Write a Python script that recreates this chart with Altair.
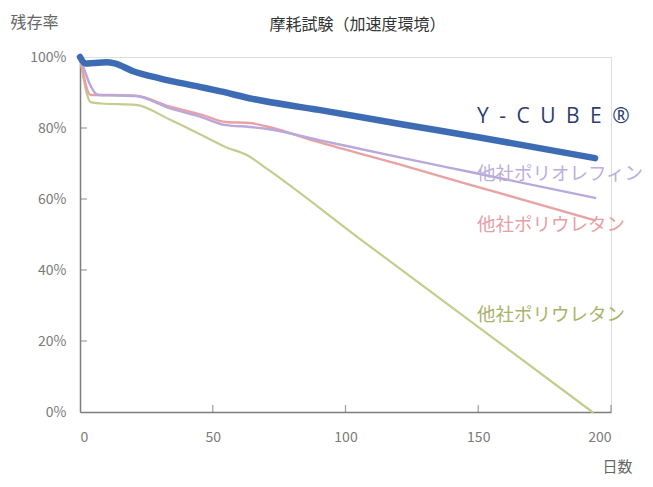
import altair as alt
import pandas as pd

# ---- data ----
days_ycube = [0, 2, 5, 10, 13, 20, 30, 45, 53, 65, 90, 120, 150, 194]
ycube = [100, 98.2, 98.3, 98.5, 98.2, 96.0, 94.0, 91.6, 90.3, 88.2, 85.1, 81.2, 77.4, 71.5]

days_olefin = [0, 7, 12, 21, 34, 46, 55, 64, 70, 90, 120, 147, 194]
olefin = [100, 89.3, 89.2, 89.0, 85.5, 83.0, 80.8, 80.3, 79.8, 76.6, 71.8, 67.6, 60.3]

days_ure1 = [0, 4, 12, 21, 34, 46, 55, 64, 70, 90, 120, 147, 194]
ure1 = [100, 89.3, 89.3, 89.1, 86.0, 83.7, 81.7, 81.4, 80.5, 76.0, 69.8, 64.0, 54.0]

days_ure2 = [0, 4, 8, 21, 34, 45, 55, 63, 71, 105, 193]
ure2 = [100, 87.3, 86.9, 86.5, 82.3, 78.3, 74.6, 72.3, 68.2, 49.0, 0]

label_text = ["Y\u2002-\u2002C\u2002U\u2002B\u2002E\u2002®", "他社ポリオレフィン", "他社ポリウレタン", "他社ポリウレタン"]
label_day = [149.5, 149.5, 149.5, 149.5]
label_val = [83.2, 67.0, 52.6, 27.3]

x_ticks = [50, 100, 150, 200]
y_ticks = [20, 40, 60, 80]

C_BLUE = "#3d6cb5"
C_PURPLE = "#b9a8dc"
C_RED = "#e9a2a3"
C_GREEN = "#c5cd8e"
L_COLORS = ["#2d3d72", "#bcaedc", "#e6a0a4", "#a8b36a"]
FONT = "Noto Sans CJK JP"

W, H = 531, 355

df_y = pd.DataFrame({"day": days_ycube, "v": ycube})
df_o = pd.DataFrame({"day": days_olefin, "v": olefin})
df_u1 = pd.DataFrame({"day": days_ure1, "v": ure1})
df_u2 = pd.DataFrame({"day": days_ure2, "v": ure2})
df_lab = pd.DataFrame({"t": label_text, "day": label_day, "v": label_val, "c": L_COLORS})
df_xt = pd.DataFrame({"day": x_ticks})
df_yt = pd.DataFrame({"v": y_ticks})

xscale = alt.Scale(domain=[0, 200], nice=False)
yscale = alt.Scale(domain=[0, 100], nice=False)

x_enc = alt.X("day:Q", scale=xscale, axis=alt.Axis(
    values=[0, 50, 100, 150, 200], tickSize=0, grid=False, labelPadding=18,
    labelFontSize=14, labelColor="#7a7a7a", labelFont=FONT,
    domainColor="#7d7d7d", domainWidth=1.5,
    title="日数", titleFont=FONT, titleFontSize=15, titleFontWeight="normal",
    titleColor="#666666", titleAnchor="end", titleAlign="center", titleX=537,
    titleY=54, titleBaseline="middle"))
y_enc = alt.Y("v:Q", scale=yscale, axis=alt.Axis(
    values=[0, 20, 40, 60, 80, 100], tickSize=0, grid=False, labelPadding=14,
    labelFontSize=14, labelColor="#7a7a7a", labelFont=FONT,
    labelExpr="datum.value + '%'",
    domainColor="#7d7d7d", domainWidth=1.5,
    title="残存率", titleFont=FONT, titleFontSize=16, titleFontWeight="normal",
    titleColor="#666666", titleAngle=0, titleAlign="left", titleX=-70,
    titleY=-35, titleBaseline="middle"))

base_line = dict(interpolate="monotone", strokeCap="round", strokeJoin="round")

l_u2 = alt.Chart(df_u2).mark_line(color=C_GREEN, strokeWidth=2.2, **base_line).encode(x=x_enc, y=y_enc)
l_u1 = alt.Chart(df_u1).mark_line(color=C_RED, strokeWidth=2.4, **base_line).encode(x="day:Q", y="v:Q")
l_o = alt.Chart(df_o).mark_line(color=C_PURPLE, strokeWidth=2.4, **base_line).encode(x="day:Q", y="v:Q")
l_y = alt.Chart(df_y).mark_line(color=C_BLUE, strokeWidth=6.5, **base_line).encode(x="day:Q", y="v:Q")

xt = alt.Chart(df_xt).mark_tick(orient="vertical", color="#7d7d7d", size=7, thickness=1.3).encode(
    x="day:Q", y=alt.value(H - 3.5))
yt = alt.Chart(df_yt).mark_tick(orient="horizontal", color="#7d7d7d", size=7, thickness=1.3).encode(
    y="v:Q", x=alt.value(3.5))

lab_y = alt.Chart(df_lab.iloc[[0]]).mark_text(
    align="left", baseline="middle", font="Open Sans", fontSize=21, color=L_COLORS[0]).encode(
    x="day:Q", y="v:Q", text="t:N")
lab_o = alt.Chart(df_lab.iloc[[1]]).mark_text(
    align="left", baseline="middle", font=FONT, fontSize=18.5, color=L_COLORS[1]).encode(
    x="day:Q", y="v:Q", text="t:N")
lab_u1 = alt.Chart(df_lab.iloc[[2]]).mark_text(
    align="left", baseline="middle", font=FONT, fontSize=18.5, color=L_COLORS[2]).encode(
    x="day:Q", y="v:Q", text="t:N")
lab_u2 = alt.Chart(df_lab.iloc[[3]]).mark_text(
    align="left", baseline="middle", font=FONT, fontSize=18.5, color=L_COLORS[3]).encode(
    x="day:Q", y="v:Q", text="t:N")

chart = alt.layer(l_u2, l_u1, l_o, l_y, xt, yt, lab_y, lab_o, lab_u1, lab_u2).properties(
    width=W, height=H,
    title=alt.TitleParams("摩耗試験（加速度環境）", font=FONT, fontSize=16, fontWeight="normal",
                          color="#333333", anchor="middle", frame="group", offset=0,
                          baseline="bottom", dy=35, dx=12),
    autosize=alt.AutoSizeParams(type="none"),
    padding={"left": 72, "top": 49, "right": 34, "bottom": 67},
).configure_view(stroke=None).configure(background="white")

chart.save("out.html", embed_options={"renderer": "svg", "actions": False})
